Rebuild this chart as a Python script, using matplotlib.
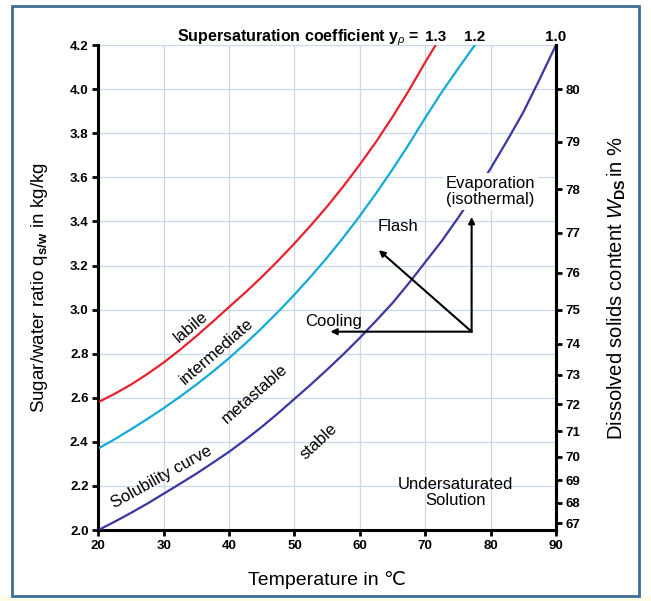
import matplotlib.pyplot as plt
from matplotlib.patches import Rectangle

plt.rcParams['font.family'] = ['Liberation Sans', 'DejaVu Sans']
plt.rcParams['mathtext.fontset'] = 'custom'
plt.rcParams['mathtext.rm'] = 'Liberation Sans'
plt.rcParams['mathtext.it'] = 'Liberation Sans:italic'
plt.rcParams['mathtext.bf'] = 'Liberation Sans:bold'

# solubility curve (supersaturation 1.0)
sol_T = [20, 22.5, 25, 27.5, 30, 32.5, 35, 37.5, 40, 42.5, 45, 47.5, 50, 52.5, 55,
         57.5, 60, 62.5, 65, 67.5, 70, 72.5, 75, 77.5, 80, 82.5, 85, 87.5, 90]
sol_q = [2.000, 2.038, 2.078, 2.120, 2.165, 2.210, 2.256, 2.305, 2.355, 2.410, 2.468,
         2.530, 2.595, 2.660, 2.728, 2.798, 2.872, 2.950, 3.030, 3.120, 3.215, 3.310,
         3.415, 3.525, 3.640, 3.765, 3.895, 4.045, 4.200]

# supersaturation 1.2
mid_T = [20, 22.5, 25, 27.5, 30, 32.5, 35, 37.5, 40, 42.5, 45, 47.5, 50, 52.5, 55,
         57.5, 60, 62.5, 65, 67.5, 70, 72.5, 75, 77.6]
mid_q = [2.370, 2.412, 2.457, 2.504, 2.553, 2.605, 2.660, 2.718, 2.780, 2.846, 2.916,
         2.990, 3.068, 3.150, 3.236, 3.328, 3.425, 3.528, 3.636, 3.750, 3.870, 3.985,
         4.092, 4.200]

# supersaturation 1.3
lab_T = [20, 22.5, 25, 27.5, 30, 32.5, 35, 37.5, 40, 42.5, 45, 47.5, 50, 52.5, 55,
         57.5, 60, 62.5, 65, 67.5, 70, 71.6]
lab_q = [2.580, 2.618, 2.660, 2.708, 2.760, 2.818, 2.880, 2.945, 3.012, 3.078, 3.148,
         3.222, 3.300, 3.382, 3.468, 3.560, 3.658, 3.762, 3.874, 3.994, 4.122, 4.200]

x_ticks = [20, 30, 40, 50, 60, 70, 80, 90]
y_ticks = [2.0, 2.2, 2.4, 2.6, 2.8, 3.0, 3.2, 3.4, 3.6, 3.8, 4.0, 4.2]
ds_ticks = [67, 68, 69, 70, 71, 72, 73, 74, 75, 76, 77, 78, 79, 80]

# process arrows: start point and end points
arrow_start = (77.1, 2.90)
cooling_end = (55.5, 2.90)
flash_end = (62.9, 3.27)
evap_end = (77.1, 3.42)

fig = plt.figure(figsize=(6.51, 6.01), dpi=100)
ax = fig.add_axes([0.151, 0.118, 0.703, 0.807])

ax.plot(sol_T, sol_q, color='#3a37a2', lw=1.6, zorder=3)
ax.plot(mid_T, mid_q, color='#14aad8', lw=1.6, zorder=3)
ax.plot(lab_T, lab_q, color='#e8222c', lw=1.6, zorder=3)

ax.set_xlim(20, 90)
ax.set_ylim(2.0, 4.2)
ax.set_xticks(x_ticks)
ax.set_yticks(y_ticks)
ax.set_yticklabels(['%.1f' % v for v in y_ticks])
ax.grid(True, color='#c8d8ec', lw=0.9)
ax.set_axisbelow(True)
for s in ['left', 'bottom', 'right']:
    ax.spines[s].set_linewidth(2.2)
ax.spines['top'].set_visible(False)
ax.tick_params(direction='out', length=4, width=2, labelsize=9.5, pad=3)
for lab in ax.get_xticklabels() + ax.get_yticklabels():
    lab.set_fontweight('bold')

ax.set_xlabel('Temperature in ℃', fontsize=14, labelpad=14)
ax.set_ylabel(r'Sugar/water ratio q$_{\mathbf{s/w}}$ in kg/kg', fontsize=13.5, labelpad=14)

# dissolved solids content axis
ax2 = ax.twinx()
ax2.set_ylim(ax.get_ylim())
ax2.set_yticks([w / (100 - w) for w in ds_ticks])
ax2.set_yticklabels([str(w) for w in ds_ticks])
ax2.spines['top'].set_visible(False)
ax2.spines['right'].set_linewidth(2.2)
ax2.tick_params(direction='out', length=4, width=2, labelsize=9.5, pad=3)
for lab in ax2.get_yticklabels():
    lab.set_fontweight('bold')
ax2.set_ylabel(r'Dissolved solids content $\mathit{W}_{\mathbf{DS}}\,$in %', fontsize=14.5, labelpad=18)

# supersaturation labels at top
top_y = 4.218
ax.text(50.6, top_y, r'Supersaturation coefficient y$_{\rho}$ =', ha='center', va='baseline',
        fontsize=11.5, fontweight='bold', clip_on=False)
for T, s in [(lab_T[-1], '1.3'), (mid_T[-1], '1.2'), (sol_T[-1], '1.0')]:
    ax.text(T, top_y, s, ha='center', va='baseline', fontsize=11, fontweight='bold', clip_on=False)

# region labels
ax.text(34.2, 2.92, 'labile', rotation=40, ha='center', va='center', fontsize=12)
ax.text(38.1, 2.81, 'intermediate', rotation=41, ha='center', va='center', fontsize=12)
ax.text(43.9, 2.62, 'metastable', rotation=41, ha='center', va='center', fontsize=12)
ax.text(29.7, 2.24, 'Solubility curve', rotation=29, ha='center', va='center', fontsize=12)
ax.text(53.7, 2.40, 'stable', rotation=43, ha='center', va='center', fontsize=12)
ax.text(74.7, 2.17, 'Undersaturated\nSolution', ha='center', va='center', fontsize=12,
        linespacing=1.1)
ax.text(56.0, 2.945, 'Cooling', ha='center', va='center', fontsize=12)
ax.text(65.9, 3.375, 'Flash', ha='center', va='center', fontsize=12)
ax.text(80.0, 3.537, 'Evaporation\n(isothermal)', ha='center', va='center', fontsize=12,
        linespacing=1.1, zorder=4,
        bbox=dict(facecolor='white', edgecolor='none', pad=2))

for end in [cooling_end, flash_end, evap_end]:
    ax.annotate('', xy=end, xytext=arrow_start, zorder=5,
                arrowprops=dict(arrowstyle='-|>', color='black', lw=1.5,
                                mutation_scale=9, shrinkA=0, shrinkB=0))

# outer frame
fig.patches.append(Rectangle((0.0, 0.0), 1.0, 0.008, transform=fig.transFigure,
                             facecolor='#fbfbe6', edgecolor='none', zorder=0))
fig.patches.append(Rectangle((12 / 651, 5 / 601), 627 / 651, 590 / 601, transform=fig.transFigure,
                             fill=False, edgecolor='#3f6c92', lw=2))

fig.savefig('out.png', dpi=100)
